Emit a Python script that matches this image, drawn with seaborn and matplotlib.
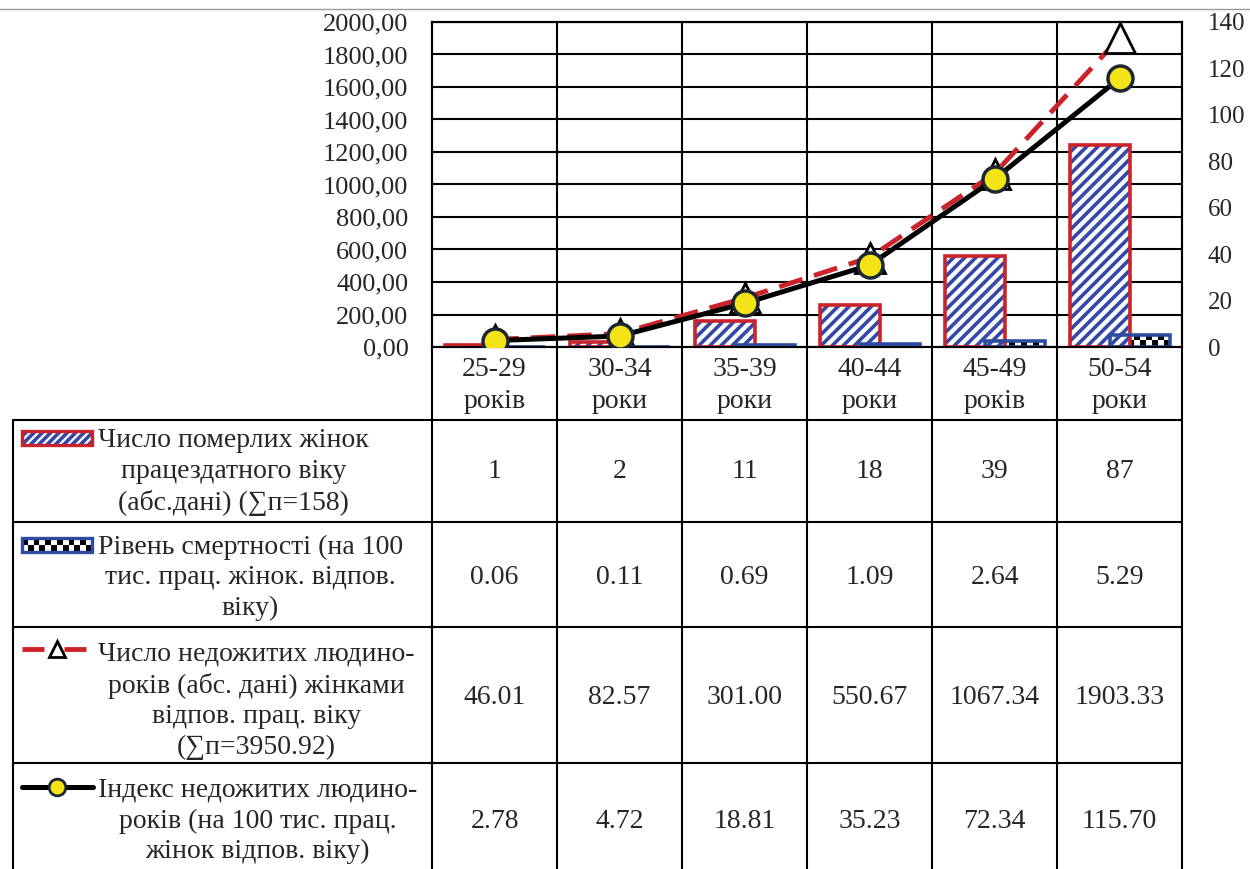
import numpy as np
import matplotlib.pyplot as plt
import matplotlib.transforms as mtransforms
from matplotlib.patches import Rectangle
import seaborn as sns

# -------- DATA --------
age_groups = ["25-29\nроків", "30-34\nроки", "35-39\nроки", "40-44\nроки", "45-49\nроків", "50-54\nроки"]
deaths = [1, 2, 11, 18, 39, 87]
death_rate = [0.06, 0.11, 0.69, 1.09, 2.64, 5.29]
years_lost = [46.01, 82.57, 301.00, 550.67, 1067.34, 1903.33]
years_lost_index = [2.78, 4.72, 18.81, 35.23, 72.34, 115.70]

row_labels = [
    "Число померлих жінок\nпрацездатного віку\n(абс.дані) (∑п=158)",
    "Рівень смертності (на 100\nтис. прац. жінок. відпов.\nвіку)",
    "Число недожитих людино-\nроків (абс. дані) жінками\nвідпов. прац. віку\n(∑п=3950.92)",
    "Індекс недожитих людино-\nроків (на 100 тис. прац.\nжінок відпов. віку)",
]
row_values = [
    [str(v) for v in deaths],
    [f"{v:.2f}" for v in death_rate],
    [f"{v:.2f}" for v in years_lost],
    [f"{v:.2f}" for v in years_lost_index],
]
left_ticks = np.arange(0, 2001, 200)
right_ticks = np.arange(0, 141, 20)

# -------- STYLE --------
RED = "#cc2229"
BLUE = "#3548a8"
RATE_EDGE = "#2f4b9f"
YELLOW = "#f4e417"
DARK = "#1d2731"
FS = 20

sns.set_style("white")
plt.rcParams["font.family"] = ["Liberation Serif", "DejaVu Serif"]
plt.rcParams["hatch.linewidth"] = 2.6

W, H = 1250, 869
fig = plt.figure(figsize=(12.5, 8.69), dpi=100)


def box(x0, y0, x1, y1):
    return [x0 / W, 1 - y1 / H, (x1 - x0) / W, (y1 - y0) / H]


ax = fig.add_axes(box(432, 22, 1182, 347))
ax2 = ax.twinx()
xpos = np.arange(len(age_groups))

# bars (right scale)
sns.barplot(x=xpos - 0.16, y=deaths, native_scale=True, width=0.48, color="white",
            saturation=1, edgecolor=BLUE, linewidth=0, hatch="///", errorbar=None, ax=ax2)
sns.barplot(x=xpos - 0.16, y=deaths, native_scale=True, width=0.48, fill=False,
            color=RED, linewidth=2.6, errorbar=None, ax=ax2)
n_red = len(ax2.patches)
sns.barplot(x=xpos + 0.16, y=death_rate, native_scale=True, width=0.48, fill=False,
            color=RATE_EDGE, linewidth=2.6, errorbar=None, ax=ax2)
# checkered fill for the mortality-rate bars
for p in ax2.patches[n_red:]:
    p.set_edgecolor(RATE_EDGE)
    x0, w, h = p.get_x(), p.get_width(), p.get_height()
    nrows = max(1, int(round(h * (325 / 140) / 6)))
    checker = np.indices((nrows, 10)).sum(axis=0) % 2
    im = ax2.imshow(checker, cmap="gray", extent=(x0, x0 + w, 0, h), aspect="auto",
                    interpolation="nearest", zorder=0.9)
    im.set_clip_path(p)

# lines
sns.lineplot(x=xpos, y=years_lost, ax=ax, color=RED, lw=3.5, linestyle=(0, (5, 2.5)),
             marker="^", markersize=21, markerfacecolor="white",
             markeredgecolor="black", markeredgewidth=2, zorder=3)
sns.lineplot(x=xpos, y=years_lost_index, ax=ax2, color="black", lw=3.6,
             marker="o", markersize=18, markerfacecolor=YELLOW,
             markeredgecolor=DARK, markeredgewidth=2.5, zorder=4)

# axes
ax.set_xlim(-0.5, 5.5)
ax.set_ylim(0, 2000)
ax2.set_ylim(0, 140)
ax.set_yticks(left_ticks, [f"{v:.2f}".replace(".", ",") for v in left_ticks], fontsize=19)
ax2.set_yticks(right_ticks, [str(v) for v in right_ticks], fontsize=18)
ax.set_xticks(xpos, age_groups, fontsize=FS)
for t in ax.get_xticklabels():
    t.set_linespacing(1.4)
ax.tick_params(axis="y", length=0, pad=17)
ax.tick_params(axis="x", length=0, pad=7)
ax2.tick_params(axis="y", length=0, pad=18.5)
ax.set_xlabel("")
ax.set_ylabel("")
ax2.set_ylabel("")
ax.grid(axis="y", color="black", lw=1.5)
ax.set_axisbelow(True)
for xb in np.arange(0.5, 5, 1):
    ax.axvline(xb, color="black", lw=1.5, zorder=0.5)
for a in (ax, ax2):
    for s in a.spines.values():
        s.set_color("black")
        s.set_linewidth(1.5)

# -------- TABLE --------
ov = fig.add_axes([0, 0, 1, 1])
ov.axis("off")
blend = mtransforms.blended_transform_factory(ax.transData, ov.transData)

ov.plot([0, W], [9, 9], color="#9a9a9a", lw=1)
for xb in np.arange(-0.5, 6, 1):
    ov.plot([xb, xb], [347, H], transform=blend, color="black", lw=1.5)
for yb in [420, 522, 627, 763]:
    ov.plot([13, 1182], [yb, yb], color="black", lw=1.5)
ov.plot([13, 13], [420, H], color="black", lw=1.5)

label_centers = [472, 578, 701, 821]
value_centers = [471, 577, 697, 821]
key_y = [438, 545, 649, 787]
for label, vals, yl, yv in zip(row_labels, row_values, label_centers, value_centers):
    ov.text(98, yl, label, fontsize=FS, ha="left", va="center",
            multialignment="center", linespacing=1.3)
    for i, v in enumerate(vals):
        ov.text(i, yv, v, transform=blend, fontsize=FS, ha="center", va="center")

# legend keys
ov.add_patch(Rectangle((22, key_y[0] - 7), 70, 14, facecolor="white", edgecolor=BLUE,
                       hatch="////", lw=0))
ov.add_patch(Rectangle((22, key_y[0] - 7), 70, 14, fill=False, edgecolor=RED, lw=2.4))
key_checker = np.indices((2, 12)).sum(axis=0) % 2
ov.imshow(key_checker, cmap="gray", extent=(22, 92, key_y[1] + 7, key_y[1] - 7),
          aspect="auto", interpolation="nearest")
ov.add_patch(Rectangle((22, key_y[1] - 7), 70, 14, fill=False, edgecolor=RATE_EDGE, lw=2.4))
ov.plot([22, 44], [key_y[2]] * 2, color=RED, lw=3.5, solid_capstyle="butt")
ov.plot([64, 86], [key_y[2]] * 2, color=RED, lw=3.5, solid_capstyle="butt")
ov.plot([57], [key_y[2]], marker="^", ms=11, mfc="white", mec="black", mew=2)
ov.plot([22, 93], [key_y[3]] * 2, color="black", lw=3.6)
ov.plot([57], [key_y[3]], marker="o", ms=12, mfc=YELLOW, mec=DARK, mew=2)
ov.set_xlim(0, W)
ov.set_ylim(H, 0)

fig.savefig("out.png", dpi=100)
